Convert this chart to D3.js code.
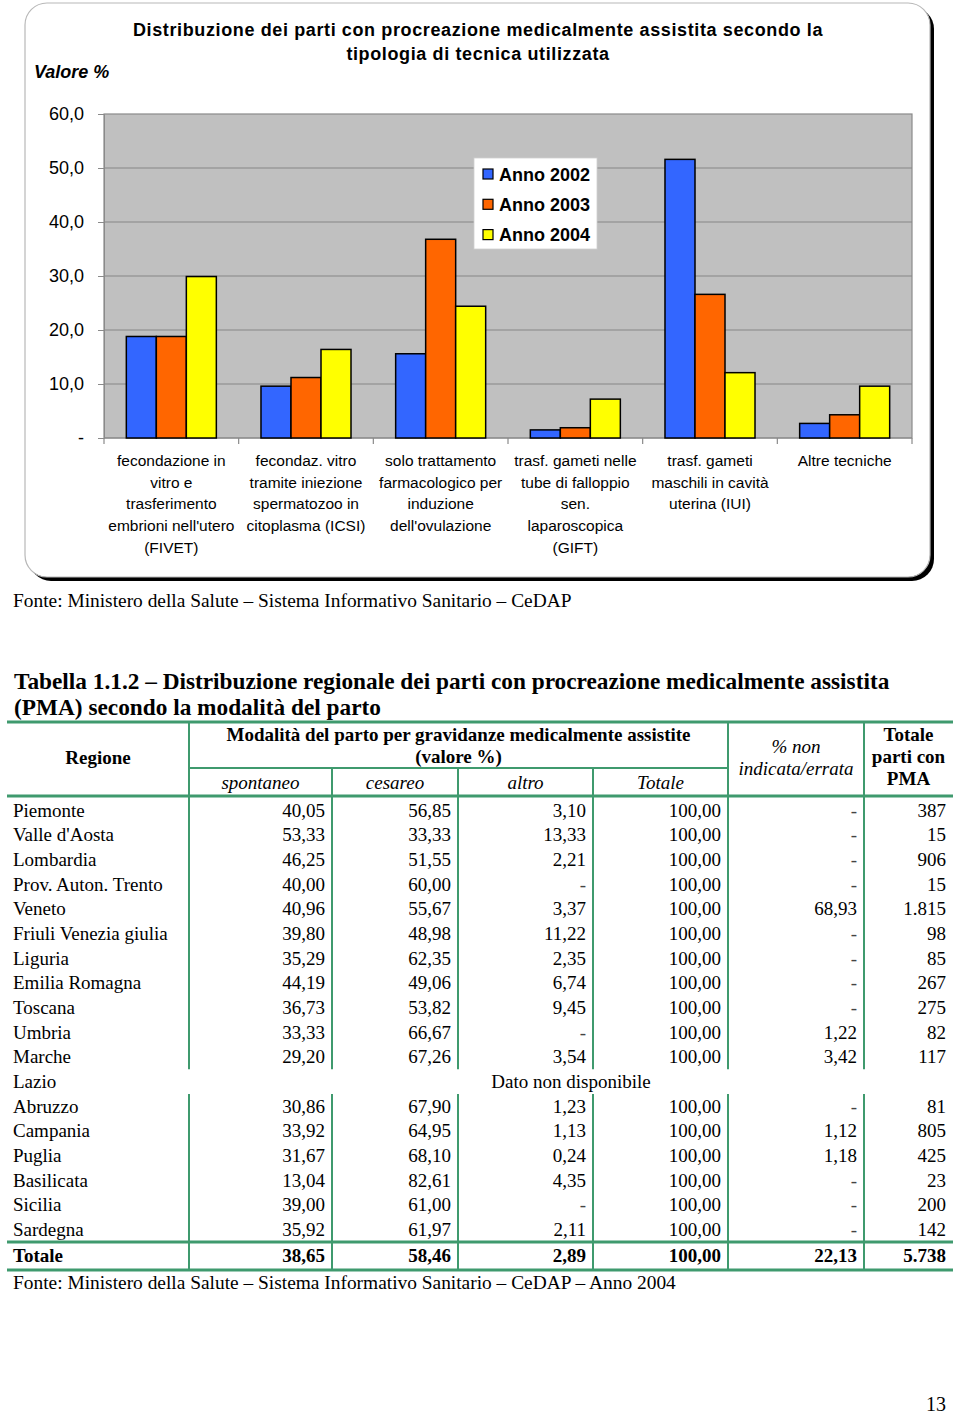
<!DOCTYPE html>
<html>
<head>
<meta charset="utf-8">
<script src="https://cdn.jsdelivr.net/npm/d3@7/dist/d3.min.js"></script>
<style>
  html, body { margin: 0; padding: 0; background: #fff; }
  svg { display: block; }
</style>
</head>
<body>
<script>
// ---------------- DATA ----------------
const categories = [
  ["fecondazione in", "vitro e", "trasferimento", "embrioni nell'utero", "(FIVET)"],
  ["fecondaz. vitro", "tramite iniezione", "spermatozoo in", "citoplasma (ICSI)"],
  ["solo trattamento", "farmacologico per", "induzione", "dell'ovulazione"],
  ["trasf. gameti nelle", "tube di falloppio", "sen.", "laparoscopica", "(GIFT)"],
  ["trasf. gameti", "maschili in cavità", "uterina (IUI)"],
  ["Altre tecniche"]
];
const seriesNames = ["Anno 2002", "Anno 2003", "Anno 2004"];
const anno2002 = [18.8, 9.6, 15.6, 1.5, 51.6, 2.7];
const anno2003 = [18.8, 11.2, 36.8, 1.9, 26.6, 4.3];
const anno2004 = [29.9, 16.4, 24.4, 7.2, 12.1, 9.6];
const yTicks = [0, 10, 20, 30, 40, 50, 60];
const yTickLabels = ["-", "10,0", "20,0", "30,0", "40,0", "50,0", "60,0"];

const regions = ["Piemonte", "Valle d'Aosta", "Lombardia", "Prov. Auton. Trento", "Veneto",
  "Friuli Venezia giulia", "Liguria", "Emilia Romagna", "Toscana", "Umbria", "Marche",
  "Lazio", "Abruzzo", "Campania", "Puglia", "Basilicata", "Sicilia", "Sardegna"];
const spontaneo = ["40,05","53,33","46,25","40,00","40,96","39,80","35,29","44,19","36,73","33,33","29,20",null,"30,86","33,92","31,67","13,04","39,00","35,92"];
const cesareo   = ["56,85","33,33","51,55","60,00","55,67","48,98","62,35","49,06","53,82","66,67","67,26",null,"67,90","64,95","68,10","82,61","61,00","61,97"];
const altro     = ["3,10","13,33","2,21","-","3,37","11,22","2,35","6,74","9,45","-","3,54",null,"1,23","1,13","0,24","4,35","-","2,11"];
const totale    = ["100,00","100,00","100,00","100,00","100,00","100,00","100,00","100,00","100,00","100,00","100,00",null,"100,00","100,00","100,00","100,00","100,00","100,00"];
const nonIndicata = ["-","-","-","-","68,93","-","-","-","-","1,22","3,42",null,"-","1,12","1,18","-","-","-"];
const totaleParti = ["387","15","906","15","1.815","98","85","267","275","82","117",null,"81","805","425","23","200","142"];
const totalRow = ["Totale","38,65","58,46","2,89","100,00","22,13","5.738"];

// ---------------- SVG ----------------
const W = 960, H = 1416;
const svg = d3.select("body").append("svg").attr("width", W).attr("height", H);
const SANS = "'Liberation Sans', Arial, sans-serif";
const SERIF = "'Liberation Serif', 'Times New Roman', serif";

// Chart frame with shadow
svg.append("rect").attr("x", 29).attr("y", 7).attr("width", 905).attr("height", 574)
  .attr("rx", 22).attr("fill", "#000");
svg.append("rect").attr("x", 25).attr("y", 3).attr("width", 905).attr("height", 574)
  .attr("rx", 22).attr("fill", "#fff").attr("stroke", "#b8b8b8").attr("stroke-width", 1.2);

// Title
const title = svg.append("text").attr("font-family", SANS).attr("font-weight", "bold")
  .attr("font-size", 18).attr("text-anchor", "middle").attr("letter-spacing", 0.62).attr("fill", "#000");
title.append("tspan").attr("x", 478).attr("y", 36).text("Distribuzione dei parti con procreazione medicalmente assistita secondo la");
title.append("tspan").attr("x", 478).attr("y", 60).text("tipologia di tecnica utilizzata");

svg.append("text").attr("x", 34).attr("y", 78).attr("font-family", SANS).attr("font-weight", "bold")
  .attr("font-style", "italic").attr("font-size", 18).text("Valore %");

// Plot
const plot = { left: 104, right: 912, top: 114, bottom: 438 };
const y = d3.scaleLinear().domain([0, 60]).range([plot.bottom, plot.top]);
const x0 = d3.scaleBand().domain(d3.range(categories.length)).range([plot.left, plot.right]);
const x1 = d3.scaleBand().domain(seriesNames).range([0, x0.bandwidth()]).paddingOuter(0.744).paddingInner(0);
const colors = d3.scaleOrdinal().domain(seriesNames).range(["#3366ff", "#ff6600", "#ffff00"]);

svg.append("rect").attr("x", plot.left).attr("y", plot.top)
  .attr("width", plot.right - plot.left).attr("height", plot.bottom - plot.top)
  .attr("fill", "#c0c0c0").attr("stroke", "#8a8a8a").attr("stroke-width", 1.2);

// gridlines
svg.append("g").selectAll("line").data(yTicks.filter(d => d > 0 && d < 60)).join("line")
  .attr("x1", plot.left).attr("x2", plot.right)
  .attr("y1", d => y(d)).attr("y2", d => y(d))
  .attr("stroke", "#858585").attr("stroke-width", 1.2);

// y axis
const yAxis = svg.append("g").attr("transform", `translate(${plot.left},0)`)
  .call(d3.axisLeft(y).tickValues(yTicks).tickSize(6).tickPadding(14)
    .tickFormat((d, i) => yTickLabels[i]));
yAxis.select(".domain").attr("stroke", "#8a8a8a");
yAxis.selectAll(".tick line").attr("stroke", "#8a8a8a");
yAxis.selectAll(".tick text").attr("font-family", SANS).attr("font-size", 18).attr("fill", "#000");

// x axis baseline + ticks
svg.append("line").attr("x1", plot.left).attr("x2", plot.right).attr("y1", plot.bottom).attr("y2", plot.bottom)
  .attr("stroke", "#8a8a8a").attr("stroke-width", 1.2);
svg.append("g").selectAll("line").data(d3.range(categories.length + 1)).join("line")
  .attr("x1", i => i < categories.length ? x0(i) : plot.right)
  .attr("x2", i => i < categories.length ? x0(i) : plot.right)
  .attr("y1", plot.bottom).attr("y2", plot.bottom + 6)
  .attr("stroke", "#8a8a8a").attr("stroke-width", 1.2);

// bars
const seriesData = [anno2002, anno2003, anno2004];
const groups = svg.append("g").selectAll("g").data(categories).join("g")
  .attr("transform", (d, i) => `translate(${x0(i)},0)`);
groups.selectAll("rect").data((d, i) => seriesNames.map((s, k) => ({ s, v: seriesData[k][i] }))).join("rect")
  .attr("x", d => x1(d.s)).attr("width", x1.bandwidth())
  .attr("y", d => y(d.v)).attr("height", d => y(0) - y(d.v))
  .attr("fill", d => colors(d.s)).attr("stroke", "#000").attr("stroke-width", 1.5);

// category labels
const catText = svg.append("g").selectAll("text").data(categories).join("text")
  .attr("font-family", SANS).attr("font-size", 15.5).attr("text-anchor", "middle").attr("fill", "#000")
  .attr("transform", (d, i) => `translate(${x0(i) + x0.bandwidth() / 2},0)`);
catText.selectAll("tspan").data(d => d).join("tspan")
  .attr("x", 0).attr("y", (d, j) => 466 + j * 21.7).text(d => d);

// legend
const lg = svg.append("g");
lg.append("rect").attr("x", 474).attr("y", 158).attr("width", 123).attr("height", 91)
  .attr("fill", "#fff").attr("stroke", "#d0d0d0").attr("stroke-width", 0.8);
const li = lg.selectAll("g").data(seriesNames).join("g")
  .attr("transform", (d, i) => `translate(483,${174 + i * 30.3})`);
li.append("rect").attr("x", 0).attr("y", -5).attr("width", 10).attr("height", 10)
  .attr("fill", d => colors(d)).attr("stroke", "#000").attr("stroke-width", 1.2);
li.append("text").attr("x", 16).attr("y", 6.5).attr("font-family", SANS).attr("font-weight", "bold")
  .attr("font-size", 18).attr("fill", "#000").text(d => d);

// chart source
svg.append("text").attr("x", 13).attr("y", 607).attr("font-family", SERIF).attr("font-size", 19.4)
  .text("Fonte: Ministero della Salute – Sistema Informativo Sanitario – CeDAP");

// ---------------- TABLE ----------------
const tt = svg.append("text").attr("font-family", SERIF).attr("font-weight", "bold").attr("font-size", 23.3);
tt.append("tspan").attr("x", 14).attr("y", 689).text("Tabella 1.1.2 – Distribuzione regionale dei parti con procreazione medicalmente assistita");
tt.append("tspan").attr("x", 14).attr("y", 715).text("(PMA) secondo la modalità del parto");

const GREEN = "#3f9a6e";
const colEdges = [7, 189, 332, 458, 593, 728, 864, 953];
const rowY = d3.scaleBand().domain(regions).range([797.7, 1242]);
const rh = rowY.bandwidth();

const lines = svg.append("g").attr("stroke", GREEN);
// horizontal
lines.append("line").attr("x1", 7).attr("x2", 953).attr("y1", 722).attr("y2", 722).attr("stroke-width", 3);
lines.append("line").attr("x1", 189).attr("x2", 728).attr("y1", 768).attr("y2", 768).attr("stroke-width", 2);
lines.append("line").attr("x1", 7).attr("x2", 953).attr("y1", 796).attr("y2", 796).attr("stroke-width", 3);
lines.append("line").attr("x1", 7).attr("x2", 953).attr("y1", 1242).attr("y2", 1242).attr("stroke-width", 3);
lines.append("line").attr("x1", 7).attr("x2", 953).attr("y1", 1270).attr("y2", 1270).attr("stroke-width", 3);
// vertical header
[[189, 722], [332, 768], [458, 768], [593, 768], [728, 722], [864, 722]].forEach(([x, y1]) => {
  lines.append("line").attr("x1", x).attr("x2", x).attr("y1", y1).attr("y2", 796).attr("stroke-width", 2);
});
// vertical body (gap at Lazio)
const lazioTop = rowY("Lazio"), lazioBot = rowY("Lazio") + rh;
colEdges.slice(1, 7).forEach(x => {
  lines.append("line").attr("x1", x).attr("x2", x).attr("y1", 796).attr("y2", lazioTop).attr("stroke-width", 2);
  lines.append("line").attr("x1", x).attr("x2", x).attr("y1", lazioBot).attr("y2", 1270).attr("stroke-width", 2);
});

// header text
const hdr = svg.append("g").attr("font-family", SERIF).attr("font-size", 19).attr("fill", "#000");
function htext(x, yy, t, bold, italic) {
  hdr.append("text").attr("x", x).attr("y", yy).attr("text-anchor", "middle")
    .attr("font-weight", bold ? "bold" : "normal").attr("font-style", italic ? "italic" : "normal").text(t);
}
htext(98, 764, "Regione", true, false);
htext(458.5, 741, "Modalità del parto per gravidanze medicalmente assistite", true, false);
htext(458.5, 763, "(valore %)", true, false);
htext(260.5, 789, "spontaneo", false, true);
htext(395, 789, "cesareo", false, true);
htext(525.5, 789, "altro", false, true);
htext(660.5, 789, "Totale", false, true);
htext(796, 753, "% non", false, true);
htext(796, 775, "indicata/errata", false, true);
htext(908.5, 741, "Totale", true, false);
htext(908.5, 763, "parti con", true, false);
htext(908.5, 785, "PMA", true, false);

// body rows
const cols = [spontaneo, cesareo, altro, totale, nonIndicata, totaleParti];
const body = svg.append("g").attr("font-family", SERIF).attr("font-size", 19).attr("fill", "#000");
const rows = body.selectAll("g").data(regions).join("g")
  .attr("transform", d => `translate(0,${rowY(d) + rh / 2 + 6.5})`);
rows.append("text").attr("x", 13).text(d => d);
rows.each(function (reg, i) {
  const g = d3.select(this);
  if (spontaneo[i] === null) {
    g.append("text").attr("x", 571).attr("text-anchor", "middle").text("Dato non disponibile");
    return;
  }
  cols.forEach((c, k) => {
    g.append("text").attr("x", colEdges[k + 2] - 7).attr("text-anchor", "end")
      .attr("fill", c[i] === "-" ? "#444" : "#000").text(c[i]);
  });
});
// total row
const tr = body.append("g").attr("transform", "translate(0,1262)").attr("font-weight", "bold");
tr.append("text").attr("x", 13).text(totalRow[0]);
totalRow.slice(1).forEach((t, k) => {
  tr.append("text").attr("x", colEdges[k + 2] - 7).attr("text-anchor", "end").text(t);
});

svg.append("text").attr("x", 13).attr("y", 1289).attr("font-family", SERIF).attr("font-size", 19.4)
  .text("Fonte: Ministero della Salute – Sistema Informativo Sanitario – CeDAP – Anno 2004");

svg.append("text").attr("x", 946).attr("y", 1411).attr("text-anchor", "end").attr("font-family", SERIF)
  .attr("font-size", 20).text("13");
</script>
</body>
</html>
